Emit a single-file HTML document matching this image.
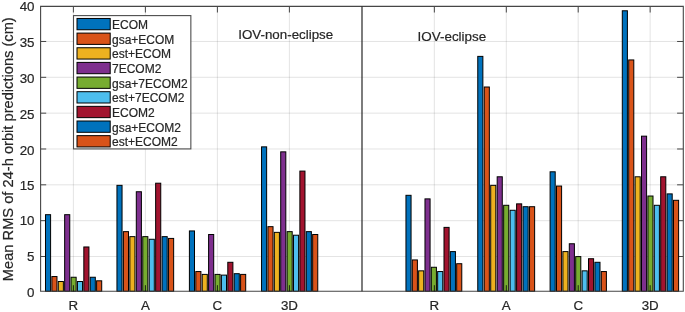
<!DOCTYPE html>
<html><head><meta charset="utf-8"><title>chart</title>
<style>html,body{margin:0;padding:0;background:#fff;}svg{display:block;will-change:transform;}</style></head>
<body>
<svg width="685" height="312" viewBox="0 0 685 312">
<rect width="685" height="312" fill="#fff"/>
<path d="M40.6 256.50H683.3 M40.6 220.66H683.3 M40.6 184.82H683.3 M40.6 148.99H683.3 M40.6 113.16H683.3 M40.6 77.32H683.3 M40.6 41.48H683.3" stroke="#262626" stroke-opacity="0.15" stroke-width="0.85" fill="none"/>
<path d="M73.4 6.4V291.3 M145.4 6.4V291.3 M217.4 6.4V291.3 M289.4 6.4V291.3 M434.35 6.4V291.3 M506.3 6.4V291.3 M578.2 6.4V291.3 M650.15 6.4V291.3" stroke="#262626" stroke-opacity="0.15" stroke-width="0.85" fill="none"/>
<path d="M40.6 256.50h5.6 M683.3 256.50h-6.2 M40.6 220.66h5.6 M683.3 220.66h-6.2 M40.6 184.82h5.6 M683.3 184.82h-6.2 M40.6 148.99h5.6 M683.3 148.99h-6.2 M40.6 113.16h5.6 M683.3 113.16h-6.2 M40.6 77.32h5.6 M683.3 77.32h-6.2 M40.6 41.48h5.6 M683.3 41.48h-6.2 M73.4 6.4v6.1 M145.4 6.4v6.1 M217.4 6.4v6.1 M289.4 6.4v6.1 M434.35 6.4v6.1 M506.3 6.4v6.1 M578.2 6.4v6.1 M650.15 6.4v6.1" stroke="#464646" stroke-width="1" fill="none"/>
<rect x="45.49" y="214.69" width="5.1" height="76.61" fill="#0072BD" stroke="#000" stroke-width="1"/>
<rect x="51.88" y="276.54" width="5.1" height="14.76" fill="#D95319" stroke="#000" stroke-width="1"/>
<rect x="58.27" y="281.52" width="5.1" height="9.78" fill="#EDB120" stroke="#000" stroke-width="1"/>
<rect x="64.66" y="214.69" width="5.1" height="76.61" fill="#7E2F8E" stroke="#000" stroke-width="1"/>
<rect x="71.05" y="277.25" width="5.1" height="14.05" fill="#77AC30" stroke="#000" stroke-width="1"/>
<rect x="77.44" y="281.52" width="5.1" height="9.78" fill="#4DBEEE" stroke="#000" stroke-width="1"/>
<rect x="83.83" y="246.97" width="5.1" height="44.33" fill="#A2142F" stroke="#000" stroke-width="1"/>
<rect x="90.22" y="277.25" width="5.1" height="14.05" fill="#0072BD" stroke="#000" stroke-width="1"/>
<rect x="96.61" y="280.81" width="5.1" height="10.49" fill="#D95319" stroke="#000" stroke-width="1"/>
<rect x="116.95" y="185.34" width="5.1" height="105.96" fill="#0072BD" stroke="#000" stroke-width="1"/>
<rect x="123.40" y="231.65" width="5.1" height="59.65" fill="#D95319" stroke="#000" stroke-width="1"/>
<rect x="129.85" y="236.64" width="5.1" height="54.66" fill="#EDB120" stroke="#000" stroke-width="1"/>
<rect x="136.30" y="191.75" width="5.1" height="99.55" fill="#7E2F8E" stroke="#000" stroke-width="1"/>
<rect x="142.75" y="236.64" width="5.1" height="54.66" fill="#77AC30" stroke="#000" stroke-width="1"/>
<rect x="149.20" y="239.27" width="5.1" height="52.03" fill="#4DBEEE" stroke="#000" stroke-width="1"/>
<rect x="155.65" y="183.20" width="5.1" height="108.10" fill="#A2142F" stroke="#000" stroke-width="1"/>
<rect x="162.10" y="236.64" width="5.1" height="54.66" fill="#0072BD" stroke="#000" stroke-width="1"/>
<rect x="168.55" y="238.42" width="5.1" height="52.88" fill="#D95319" stroke="#000" stroke-width="1"/>
<rect x="189.40" y="230.94" width="5.1" height="60.36" fill="#0072BD" stroke="#000" stroke-width="1"/>
<rect x="195.80" y="271.55" width="5.1" height="19.75" fill="#D95319" stroke="#000" stroke-width="1"/>
<rect x="202.20" y="274.40" width="5.1" height="16.90" fill="#EDB120" stroke="#000" stroke-width="1"/>
<rect x="208.60" y="234.50" width="5.1" height="56.80" fill="#7E2F8E" stroke="#000" stroke-width="1"/>
<rect x="215.00" y="274.40" width="5.1" height="16.90" fill="#77AC30" stroke="#000" stroke-width="1"/>
<rect x="221.40" y="275.11" width="5.1" height="16.19" fill="#4DBEEE" stroke="#000" stroke-width="1"/>
<rect x="227.80" y="262.29" width="5.1" height="29.01" fill="#A2142F" stroke="#000" stroke-width="1"/>
<rect x="234.20" y="273.69" width="5.1" height="17.61" fill="#0072BD" stroke="#000" stroke-width="1"/>
<rect x="240.60" y="274.40" width="5.1" height="16.90" fill="#D95319" stroke="#000" stroke-width="1"/>
<rect x="261.54" y="146.86" width="5.1" height="144.44" fill="#0072BD" stroke="#000" stroke-width="1"/>
<rect x="267.93" y="226.66" width="5.1" height="64.64" fill="#D95319" stroke="#000" stroke-width="1"/>
<rect x="274.32" y="232.36" width="5.1" height="58.94" fill="#EDB120" stroke="#000" stroke-width="1"/>
<rect x="280.71" y="151.85" width="5.1" height="139.45" fill="#7E2F8E" stroke="#000" stroke-width="1"/>
<rect x="287.10" y="231.65" width="5.1" height="59.65" fill="#77AC30" stroke="#000" stroke-width="1"/>
<rect x="293.49" y="235.21" width="5.1" height="56.09" fill="#4DBEEE" stroke="#000" stroke-width="1"/>
<rect x="299.88" y="171.09" width="5.1" height="120.21" fill="#A2142F" stroke="#000" stroke-width="1"/>
<rect x="306.27" y="231.65" width="5.1" height="59.65" fill="#0072BD" stroke="#000" stroke-width="1"/>
<rect x="312.66" y="234.50" width="5.1" height="56.80" fill="#D95319" stroke="#000" stroke-width="1"/>
<rect x="405.96" y="195.31" width="5.1" height="95.99" fill="#0072BD" stroke="#000" stroke-width="1"/>
<rect x="412.30" y="259.94" width="5.1" height="31.36" fill="#D95319" stroke="#000" stroke-width="1"/>
<rect x="418.64" y="270.84" width="5.1" height="20.46" fill="#EDB120" stroke="#000" stroke-width="1"/>
<rect x="424.98" y="198.88" width="5.1" height="92.43" fill="#7E2F8E" stroke="#000" stroke-width="1"/>
<rect x="431.32" y="267.27" width="5.1" height="24.03" fill="#77AC30" stroke="#000" stroke-width="1"/>
<rect x="437.66" y="271.55" width="5.1" height="19.75" fill="#4DBEEE" stroke="#000" stroke-width="1"/>
<rect x="444.00" y="227.38" width="5.1" height="63.93" fill="#A2142F" stroke="#000" stroke-width="1"/>
<rect x="450.34" y="251.60" width="5.1" height="39.70" fill="#0072BD" stroke="#000" stroke-width="1"/>
<rect x="456.68" y="263.71" width="5.1" height="27.59" fill="#D95319" stroke="#000" stroke-width="1"/>
<rect x="477.77" y="56.38" width="5.1" height="234.93" fill="#0072BD" stroke="#000" stroke-width="1"/>
<rect x="484.24" y="87.01" width="5.1" height="204.29" fill="#D95319" stroke="#000" stroke-width="1"/>
<rect x="490.71" y="185.34" width="5.1" height="105.96" fill="#EDB120" stroke="#000" stroke-width="1"/>
<rect x="497.18" y="176.79" width="5.1" height="114.51" fill="#7E2F8E" stroke="#000" stroke-width="1"/>
<rect x="503.65" y="205.29" width="5.1" height="86.01" fill="#77AC30" stroke="#000" stroke-width="1"/>
<rect x="510.12" y="210.27" width="5.1" height="81.03" fill="#4DBEEE" stroke="#000" stroke-width="1"/>
<rect x="516.59" y="203.86" width="5.1" height="87.44" fill="#A2142F" stroke="#000" stroke-width="1"/>
<rect x="523.06" y="206.71" width="5.1" height="84.59" fill="#0072BD" stroke="#000" stroke-width="1"/>
<rect x="529.53" y="206.71" width="5.1" height="84.59" fill="#D95319" stroke="#000" stroke-width="1"/>
<rect x="550.10" y="171.80" width="5.1" height="119.50" fill="#0072BD" stroke="#000" stroke-width="1"/>
<rect x="556.50" y="186.05" width="5.1" height="105.25" fill="#D95319" stroke="#000" stroke-width="1"/>
<rect x="562.90" y="251.60" width="5.1" height="39.70" fill="#EDB120" stroke="#000" stroke-width="1"/>
<rect x="569.30" y="243.76" width="5.1" height="47.54" fill="#7E2F8E" stroke="#000" stroke-width="1"/>
<rect x="575.70" y="256.59" width="5.1" height="34.71" fill="#77AC30" stroke="#000" stroke-width="1"/>
<rect x="582.10" y="270.84" width="5.1" height="20.46" fill="#4DBEEE" stroke="#000" stroke-width="1"/>
<rect x="588.50" y="258.73" width="5.1" height="32.57" fill="#A2142F" stroke="#000" stroke-width="1"/>
<rect x="594.90" y="262.29" width="5.1" height="29.01" fill="#0072BD" stroke="#000" stroke-width="1"/>
<rect x="601.30" y="271.55" width="5.1" height="19.75" fill="#D95319" stroke="#000" stroke-width="1"/>
<rect x="622.30" y="10.78" width="5.1" height="280.52" fill="#0072BD" stroke="#000" stroke-width="1"/>
<rect x="628.70" y="59.94" width="5.1" height="231.36" fill="#D95319" stroke="#000" stroke-width="1"/>
<rect x="635.10" y="176.79" width="5.1" height="114.51" fill="#EDB120" stroke="#000" stroke-width="1"/>
<rect x="641.50" y="136.17" width="5.1" height="155.13" fill="#7E2F8E" stroke="#000" stroke-width="1"/>
<rect x="647.90" y="196.02" width="5.1" height="95.28" fill="#77AC30" stroke="#000" stroke-width="1"/>
<rect x="654.30" y="205.29" width="5.1" height="86.01" fill="#4DBEEE" stroke="#000" stroke-width="1"/>
<rect x="660.70" y="176.79" width="5.1" height="114.51" fill="#A2142F" stroke="#000" stroke-width="1"/>
<rect x="667.10" y="193.89" width="5.1" height="97.41" fill="#0072BD" stroke="#000" stroke-width="1"/>
<rect x="673.50" y="200.30" width="5.1" height="91.00" fill="#D95319" stroke="#000" stroke-width="1"/>
<path d="M40.6 6.4H683.3V291.3H40.6Z" stroke="#464646" stroke-width="1.1" fill="none"/>
<path d="M362.0 6.4V291.3" stroke="#262626" stroke-width="1.2" fill="none"/>
<path d="M73.4 291.3v-6.1 M145.4 291.3v-6.1 M217.4 291.3v-6.1 M289.4 291.3v-6.1 M434.35 291.3v-6.1 M506.3 291.3v-6.1 M578.2 291.3v-6.1 M650.15 291.3v-6.1" stroke="#111" stroke-width="1" stroke-opacity="0.9" fill="none"/>
<g font-family="Liberation Sans, sans-serif" fill="#262626" stroke="#262626" stroke-width="0.2">
<text x="34.5" y="296.80" font-size="13.33" text-anchor="end">0</text>
<text x="34.5" y="260.80" font-size="13.33" text-anchor="end">5</text>
<text x="34.5" y="225.30" font-size="13.33" text-anchor="end">10</text>
<text x="34.5" y="189.50" font-size="13.33" text-anchor="end">15</text>
<text x="34.5" y="154.60" font-size="13.33" text-anchor="end">20</text>
<text x="34.5" y="118.60" font-size="13.33" text-anchor="end">25</text>
<text x="34.5" y="82.80" font-size="13.33" text-anchor="end">30</text>
<text x="34.5" y="46.90" font-size="13.33" text-anchor="end">35</text>
<text x="34.5" y="11.25" font-size="13.33" text-anchor="end">40</text>
<text x="73.4" y="309.9" font-size="13.33" text-anchor="middle">R</text>
<text x="145.4" y="309.9" font-size="13.33" text-anchor="middle">A</text>
<text x="217.4" y="309.9" font-size="13.33" text-anchor="middle">C</text>
<text x="289.4" y="309.9" font-size="13.33" text-anchor="middle">3D</text>
<text x="434.35" y="309.9" font-size="13.33" text-anchor="middle">R</text>
<text x="506.3" y="309.9" font-size="13.33" text-anchor="middle">A</text>
<text x="578.2" y="309.9" font-size="13.33" text-anchor="middle">C</text>
<text x="650.15" y="309.9" font-size="13.33" text-anchor="middle">3D</text>
<text transform="translate(12.7 149.2) rotate(-90)" font-size="14.67" text-anchor="middle">Mean RMS of 24-h orbit predictions (cm)</text>
<text x="238.3" y="38.8" font-size="13.33">IOV-non-eclipse</text>
<text x="417.6" y="40.5" font-size="13.43">IOV-eclipse</text>
<rect x="73.5" y="15.6" width="117.35" height="133.30" fill="#fff" stroke="#4d4d4d" stroke-width="1.1"/>
<rect x="77" y="18.45" width="33.2" height="11.3" fill="#0072BD" stroke="#000" stroke-width="1"/>
<text x="112" y="29.10" font-size="12">ECOM</text>
<rect x="77" y="33.10" width="33.2" height="11.3" fill="#D95319" stroke="#000" stroke-width="1"/>
<text x="112" y="43.75" font-size="12">gsa+ECOM</text>
<rect x="77" y="47.75" width="33.2" height="11.3" fill="#EDB120" stroke="#000" stroke-width="1"/>
<text x="112" y="58.40" font-size="12">est+ECOM</text>
<rect x="77" y="62.40" width="33.2" height="11.3" fill="#7E2F8E" stroke="#000" stroke-width="1"/>
<text x="112" y="73.05" font-size="12">7ECOM2</text>
<rect x="77" y="77.05" width="33.2" height="11.3" fill="#77AC30" stroke="#000" stroke-width="1"/>
<text x="112" y="87.70" font-size="12">gsa+7ECOM2</text>
<rect x="77" y="91.70" width="33.2" height="11.3" fill="#4DBEEE" stroke="#000" stroke-width="1"/>
<text x="112" y="102.35" font-size="12">est+7ECOM2</text>
<rect x="77" y="106.35" width="33.2" height="11.3" fill="#A2142F" stroke="#000" stroke-width="1"/>
<text x="112" y="117.00" font-size="12">ECOM2</text>
<rect x="77" y="121.00" width="33.2" height="11.3" fill="#0072BD" stroke="#000" stroke-width="1"/>
<text x="112" y="131.65" font-size="12">gsa+ECOM2</text>
<rect x="77" y="135.65" width="33.2" height="11.3" fill="#D95319" stroke="#000" stroke-width="1"/>
<text x="112" y="146.30" font-size="12">est+ECOM2</text>
</g>
</svg>
</body></html>
